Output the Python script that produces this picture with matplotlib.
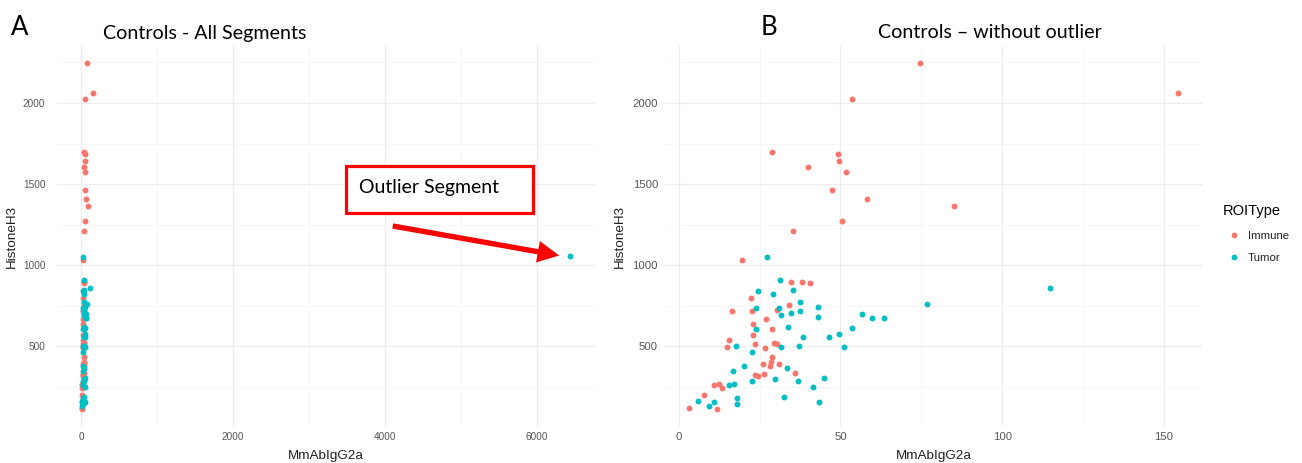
import matplotlib
matplotlib.use("Agg")
import matplotlib.pyplot as plt
from matplotlib.lines import Line2D
from matplotlib.patches import Rectangle, FancyArrowPatch
from matplotlib.ticker import MultipleLocator

# ---------------- data ----------------
immune_x = [74.5, 53.7, 154.2, 28.7, 49.1, 49.6, 40.0, 51.6, 47.5, 58.2, 85.1, 50.4, 35.3,
            19.5, 34.7, 38.0, 40.6, 22.2, 34.2, 16.6, 22.6, 30.3, 26.9, 22.9, 28.7, 22.9,
            15.5, 14.8, 23.7, 29.4, 30.5, 26.7, 28.9, 28.5, 26.0, 31.1, 28.2, 35.8, 23.6,
            24.6, 26.4, 11.0, 12.5, 13.5, 7.9, 3.3, 11.7]
immune_y = [2245, 2022, 2060, 1699, 1687, 1641, 1603, 1574, 1465, 1407, 1362, 1274, 1208,
            1031, 895, 895, 887, 799, 753, 718, 716, 726, 665, 638, 603, 570,
            541, 494, 515, 521, 515, 488, 432, 401, 389, 387, 377, 336, 324,
            315, 327, 262, 266, 243, 196, 117, 114]

tumor_x = [27.4, 31.4, 35.3, 24.4, 29.1, 37.4, 23.9, 31.1, 43.2, 37.5, 34.6, 31.6, 43.2,
           56.7, 59.8, 63.5, 33.9, 23.9, 53.6, 49.4, 46.5, 38.4, 17.8, 31.7, 37.2, 51.2,
           22.7, 20.2, 16.7, 33.5, 22.6, 29.8, 36.8, 44.8, 41.5, 15.5, 17.0, 32.6, 43.4,
           18.1, 18.1, 6.1, 9.4, 11.0, 114.8, 76.6]
tumor_y = [1049, 910, 848, 838, 819, 771, 734, 734, 743, 718, 706, 694, 677,
           696, 673, 675, 620, 603, 609, 572, 558, 558, 504, 494, 500, 496,
           465, 377, 348, 367, 288, 296, 284, 305, 250, 258, 266, 188, 157,
           182, 142, 163, 130, 155, 860, 757]

outlier_x = [6440]
outlier_y = [1055]

categories = ["Immune", "Tumor"]
colors = {"Immune": "#F8766D", "Tumor": "#00BFC4"}

W, H = 1302, 463
fig = plt.figure(figsize=(W / 100, H / 100), dpi=100)
fig.patch.set_facecolor("white")

def fx(px):
    return px / W

def fy(py):
    return 1 - py / H

tick_col = "#555555"

def style(ax, xmaj, xmin, tick_fs, ypad):
    ax.set_facecolor("white")
    for s in ax.spines.values():
        s.set_visible(False)
    ax.xaxis.set_major_locator(MultipleLocator(xmaj))
    ax.xaxis.set_minor_locator(MultipleLocator(xmin))
    ax.yaxis.set_major_locator(MultipleLocator(500))
    ax.yaxis.set_minor_locator(MultipleLocator(250))
    ax.grid(which="major", color="#EDEDED", lw=0.9)
    ax.grid(which="minor", color="#F5F5F5", lw=0.6)
    ax.set_axisbelow(True)
    ax.tick_params(which="both", length=0)
    ax.tick_params(axis="x", labelsize=tick_fs, labelcolor=tick_col, pad=4.5)
    ax.tick_params(axis="y", labelsize=tick_fs, labelcolor=tick_col, pad=ypad)
    for lab in ax.get_xticklabels() + ax.get_yticklabels():
        lab.set_fontfamily("Liberation Sans")
    ax.set_xlabel("MmAbIgG2a", fontsize=9.7, family="Liberation Sans", va="center", color="#222222")
    ax.set_ylabel("HistoneH3", fontsize=9.7, family="Liberation Sans", va="center", color="#222222")
    ax.xaxis.set_label_coords(0.5, -(456 - 426) / 380)
    ax.yaxis.set_label_coords(-0.084, 0.5)
    ax.margins(0.05)

# ---------------- left panel ----------------
axL = fig.add_axes([fx(57.2), fy(426), fx(594.6) - fx(57.2), fy(46) - fy(426)])
axL.scatter(immune_x, immune_y, s=18, color=colors["Immune"], lw=0, zorder=3)
axL.scatter(tumor_x + outlier_x, tumor_y + outlier_y, s=18, color=colors["Tumor"], lw=0, zorder=3)
style(axL, 2000, 1000, 7.2, 8.5)

# ---------------- right panel ----------------
axR = fig.add_axes([fx(665), fy(426), fx(1202) - fx(665), fy(46) - fy(426)])
axR.scatter(immune_x, immune_y, s=18, color=colors["Immune"], lw=0, zorder=3)
axR.scatter(tumor_x, tumor_y, s=18, color=colors["Tumor"], lw=0, zorder=3)
style(axR, 50, 25, 8.2, 5)

# ---------------- legend ----------------
handles = [Line2D([], [], marker="o", ls="", color=colors[c], markersize=4.2, markeredgewidth=0)
           for c in categories]
leg = fig.legend(handles, categories, title="ROIType", loc="upper left",
                 bbox_to_anchor=(fx(1223), fy(204)), frameon=False,
                 prop={"family": "Liberation Sans", "size": 8.2},
                 title_fontproperties={"family": "Liberation Sans", "size": 10.5},
                 handlelength=1.9, handletextpad=0.3, labelspacing=1.1,
                 borderpad=0, borderaxespad=0, alignment="left")
for t in leg.get_texts():
    t.set_color("#222222")

# ---------------- titles ----------------
tfont = "Lato"
fig.text(fx(19.5), fy(27.5), "A", fontsize=18.5, family=tfont, ha="center", va="center")
fig.text(fx(769), fy(27.5), "B", fontsize=18.5, family=tfont, ha="center", va="center")
fig.text(fx(204.5), fy(33), "Controls - All Segments", fontsize=14.1, family=tfont,
         ha="center", va="center")
fig.text(fx(990), fy(33), "Controls \u2013 without outlier", fontsize=14.1, family=tfont,
         ha="center", va="center")

# ---------------- annotation box and arrow ----------------
rect = Rectangle((fx(345.5), fy(213)), fx(533) - fx(345.5), fy(165.5) - fy(213),
                 transform=fig.transFigure, facecolor="white", edgecolor="#FF0000",
                 lw=2.3, zorder=10)
fig.patches.append(rect)
fig.text(fx(359), fy(187), "Outlier Segment", fontsize=14, family=tfont,
         ha="left", va="center", zorder=11)
arrow = FancyArrowPatch((fx(390), fy(225.5)), (fx(562), fy(256)),
                        transform=fig.transFigure,
                        arrowstyle="simple,head_length=1.3,head_width=1.3,tail_width=0.32",
                        mutation_scale=12, color="#FF0000", lw=0, zorder=10)
fig.patches.append(arrow)

fig.savefig("out.png", dpi=100)
